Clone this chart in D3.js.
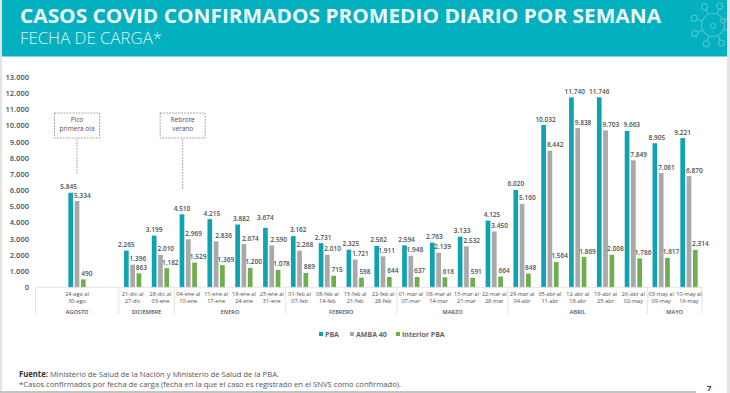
<!DOCTYPE html>
<html>
<head>
<meta charset="utf-8">
<script src="https://cdn.jsdelivr.net/npm/d3@7"></script>
<style>
  html, body { margin: 0; padding: 0; background: #fff; }
  svg { display: block; font-family: "Open Sans", sans-serif; }
</style>
</head>
<body>
<script>
var w = 730;
var h = 393;

// weeks, in drawing order ("" entries are empty slots on the axis)
var weeks = ["24-ago al|30-ago", "", "21-dic al|27-dic", "28-dic al|03-ene", "04-ene al|10-ene", "11-ene al|17-ene",
  "18-ene al|24-ene", "25-ene al|31-ene", "01-feb al|07-feb", "08-feb al|14-feb", "15-feb al|21-feb", "22-feb al|28-feb",
  "01-mar al|07-mar", "08-mar al|14-mar", "15-mar al|21-mar", "22-mar al|28-mar", "29-mar al|04-abr", "05-abr al|11-abr",
  "12-abr al|18-abr", "19-abr al|25-abr", "26-abr al|02-may", "03-may al|09-may", "10-may al|16-may"];
var pba = [5845, null, 2265, 3199, 4510, 4215, 3882, 3674, 3162, 2731, 2325, 2562, 2594, 2763, 3133, 4125, 6020, 10032, 11740, 11746, 9663, 8905, 9221];
var amba = [5334, null, 1396, 2010, 2969, 2836, 2674, 2590, 2268, 2010, 1721, 1911, 1948, 2139, 2532, 3450, 5160, 8442, 9838, 9703, 7849, 7061, 6870];
var interior = [490, null, 863, 1182, 1529, 1369, 1200, 1078, 889, 715, 598, 644, 637, 618, 591, 664, 848, 1564, 1869, 2008, 1786, 1817, 2314];

var months = ["AGOSTO", "DICIEMBRE", "ENERO", "FEBRERO", "MARZO", "ABRIL", "MAYO"];
var monthStart = [0, 2, 4, 8, 12, 16, 21]; // first slot of each month
var monthEnd = [1, 3, 7, 11, 15, 20, 22];  // last slot of each month

var yTicks = d3.range(0, 14000, 1000);

var seriesNames = ["PBA", "AMBA 40", "Interior PBA"];
var seriesColors = ["#0fa3b1", "#a9a9a9", "#6fae4c"];
var seriesValues = [pba, amba, interior];

var teal = "#02b0bf";
var textColor = "#505050";

// number format with a dot for thousands
var fmt = d3.formatLocale({decimal: ",", thousands: ".", grouping: [3], currency: ["$", ""]}).format(",d");

var svg = d3.select("body").append("svg")
  .attr("width", w)
  .attr("height", h)
  .style("background", "white");

// page edges and header band
svg.append("rect").attr("x", 0).attr("y", 0).attr("width", 2).attr("height", h).attr("fill", "#e4e4e4");
svg.append("rect").attr("x", 2).attr("y", 0).attr("width", 725).attr("height", 56.5).attr("fill", teal);
svg.append("rect").attr("x", 0).attr("y", 391).attr("width", 696).attr("height", 2).attr("fill", "#c4c4c4");

svg.append("text").attr("x", 20).attr("y", 22.5)
  .attr("fill", "#eefbfc").attr("font-size", 20).attr("font-weight", 700)
  .attr("textLength", 641).attr("lengthAdjust", "spacingAndGlyphs")
  .text("CASOS COVID CONFIRMADOS PROMEDIO DIARIO POR SEMANA");
svg.append("text").attr("x", 20).attr("y", 43.5)
  .attr("fill", "#dff6f8").attr("font-size", 15.5).attr("font-weight", 300)
  .attr("textLength", 142).attr("lengthAdjust", "spacingAndGlyphs")
  .text("FECHA DE CARGA*");

// virus icon in the corner of the header
var virus = svg.append("g").attr("transform", "translate(713,25)")
  .attr("fill", "none").attr("stroke", "#4fc3ce").attr("stroke-width", 1.2);
virus.append("circle").attr("r", 11.5);
virus.append("circle").attr("cx", 0).attr("cy", 1).attr("r", 2.5);
virus.append("circle").attr("cx", 10).attr("cy", -4).attr("r", 2.2).attr("fill", "#3f8f99");
d3.range(20, 380, 45).forEach(function(a){
  var r = a * Math.PI / 180;
  virus.append("line")
    .attr("x1", 11.5 * Math.cos(r)).attr("y1", 11.5 * Math.sin(r))
    .attr("x2", 17 * Math.cos(r)).attr("y2", 17 * Math.sin(r));
  virus.append("circle")
    .attr("cx", 20 * Math.cos(r)).attr("cy", 20 * Math.sin(r)).attr("r", 3);
});
// right edge goes over the icon, the icon is cut there
svg.append("rect").attr("x", 727).attr("y", 0).attr("width", 3).attr("height", h).attr("fill", "#e4e4e4");

// scales
var xScale = d3.scalePoint()
  .domain(d3.range(weeks.length))
  .range([77, 689]);
var step = xScale.step();

var seriesScale = d3.scalePoint()
  .domain([0, 1, 2])
  .range([-6.3, 6.3]);

var yScale = d3.scaleLinear()
  .domain([0, 13000])
  .range([287.3, 77]);

// y axis
var yAxis = d3.axisLeft(yScale)
  .tickValues(yTicks)
  .tickSize(0)
  .tickFormat(fmt);
var yG = svg.append("g").attr("transform", "translate(32,0)").call(yAxis);
yG.select(".domain").remove();
yG.selectAll("text")
  .attr("font-family", "'Open Sans', sans-serif")
  .attr("font-size", 7.5)
  .attr("font-weight", 600)
  .attr("fill", textColor);

// bars and value labels
var barWidth = 4.7;
var labelOffset = [2, 5.3, 3.5];
// labels the original slide placed by hand, "series:week" -> horizontal shift
var labelNudge = {
  "0:0": -2, "0:2": 0, "0:3": 0, "0:4": 0, "0:6": 3.7, "0:7": 0, "0:8": 5, "0:15": 4, "0:16": 0,
  "0:18": 3.3, "0:19": 0, "0:20": 4.7, "0:22": 0,
  "1:5": 7.5, "1:6": 6.5, "1:7": 7, "1:11": 3.6, "1:12": 4, "1:13": 4,
  "2:2": 2.4, "2:12": 2.4, "2:16": 2.2, "2:22": 5
};
var labelLift = {"0:7": 4, "0:8": 1};

seriesValues.forEach(function(values, s){
  var pts = values.map(function(v, i){ return {v: v, i: i, key: s + ":" + i}; })
    .filter(function(d){ return d.v !== null; });

  var g = svg.append("g");
  g.selectAll("rect")
    .data(pts)
    .enter()
    .append("rect")
    .attr("x", function(d){ return xScale(d.i) + seriesScale(s) - barWidth / 2; })
    .attr("y", function(d){ return yScale(d.v); })
    .attr("width", barWidth)
    .attr("height", function(d){ return yScale(0) - yScale(d.v); })
    .attr("fill", seriesColors[s]);

  g.selectAll("text")
    .data(pts)
    .enter()
    .append("text")
    .attr("x", function(d){
      var dx = d.key in labelNudge ? labelNudge[d.key] : labelOffset[s];
      return xScale(d.i) + seriesScale(s) + dx;
    })
    .attr("y", function(d){ return yScale(d.v) - 3.5 - (labelLift[d.key] || 0); })
    .attr("text-anchor", "middle")
    .attr("font-size", 6.5)
    .attr("font-weight", 600)
    .attr("fill", textColor)
    .text(function(d){ return fmt(d.v); });
});

// axis frame: baseline, separators between months
var sepColor = "#dcdcdc";
var axisBottom = svg.append("g");
axisBottom.append("line")
  .attr("x1", 35.5).attr("x2", 702)
  .attr("y1", yScale(0)).attr("y2", yScale(0))
  .attr("stroke", sepColor).attr("stroke-width", 0.8);

function monthLeft(m){ return m === 0 ? 35.5 : xScale(monthStart[m]) - step / 2; }
function monthRight(m){ return m === months.length - 1 ? 702 : xScale(monthEnd[m]) + step / 2; }

months.forEach(function(name, m){
  axisBottom.append("line")
    .attr("x1", monthLeft(m)).attr("x2", monthLeft(m))
    .attr("y1", yScale(0)).attr("y2", 314)
    .attr("stroke", sepColor).attr("stroke-width", 0.8);
  axisBottom.append("text")
    .attr("x", (monthLeft(m) + monthRight(m)) / 2).attr("y", 313.8)
    .attr("text-anchor", "middle")
    .attr("font-size", 5.6).attr("font-weight", 600).attr("fill", textColor)
    .text(name);
});
axisBottom.append("line")
  .attr("x1", 702).attr("x2", 702)
  .attr("y1", yScale(0)).attr("y2", 314)
  .attr("stroke", sepColor).attr("stroke-width", 0.8);

// week labels, on two lines
weeks.forEach(function(label, i){
  if (!label) return;
  var parts = label.split("|");
  [296, 303].forEach(function(yPos, k){
    axisBottom.append("text")
      .attr("x", xScale(i)).attr("y", yPos)
      .attr("text-anchor", "middle")
      .attr("font-size", 5.6).attr("fill", textColor)
      .text(parts[k]);
  });
});

// callouts
function callout(i, lines, lineEnd){
  var cx = xScale(i) + (i === 0 ? 0 : -5.6);
  var g = svg.append("g");
  g.append("rect")
    .attr("x", cx - 22.5).attr("y", 113)
    .attr("width", 45).attr("height", 25)
    .attr("fill", "none").attr("stroke", "#8a8a8a")
    .attr("stroke-width", 0.8).attr("stroke-dasharray", "1.8,1.2");
  g.append("line")
    .attr("x1", cx).attr("x2", cx)
    .attr("y1", 139).attr("y2", yScale(lineEnd))
    .attr("stroke", "#8a8a8a")
    .attr("stroke-width", 0.8).attr("stroke-dasharray", "1.8,1.2");
  lines.forEach(function(t, k){
    g.append("text")
      .attr("x", cx).attr("y", 122 + k * 8.5)
      .attr("text-anchor", "middle")
      .attr("font-size", 6.5).attr("fill", textColor)
      .text(t);
  });
}
callout(0, ["Pico", "primera ola"], 7000);
callout(4, ["Rebrote", "verano"], 6050);

// legend
var legendX = [319, 350, 396];
seriesNames.forEach(function(name, s){
  svg.append("rect")
    .attr("x", legendX[s]).attr("y", 332)
    .attr("width", 4).attr("height", 4)
    .attr("fill", seriesColors[s]);
  svg.append("text")
    .attr("x", legendX[s] + 6).attr("y", 337)
    .attr("font-size", 7).attr("font-weight", 700).attr("fill", "#666")
    .text(name);
});

// footnote
var foot = svg.append("text").attr("x", 19).attr("y", 377)
  .attr("font-size", 8).attr("fill", "#555")
  .attr("textLength", 260).attr("lengthAdjust", "spacingAndGlyphs");
foot.append("tspan").attr("font-weight", 700).attr("fill", "#333").text("Fuente: ");
foot.append("tspan").text("Ministerio de Salud de la Nación y Ministerio de Salud de la PBA.");
svg.append("text").attr("x", 19).attr("y", 386.5)
  .attr("font-size", 8).attr("fill", "#555")
  .attr("textLength", 382).attr("lengthAdjust", "spacingAndGlyphs")
  .text("*Casos confirmados por fecha de carga (fecha en la que el caso es registrado en el SNVS como confirmado).");

svg.append("text").attr("x", 707).attr("y", 390.5)
  .attr("font-size", 7.5).attr("font-weight", 700).attr("fill", "#333")
  .text("7");
</script>
</body>
</html>
